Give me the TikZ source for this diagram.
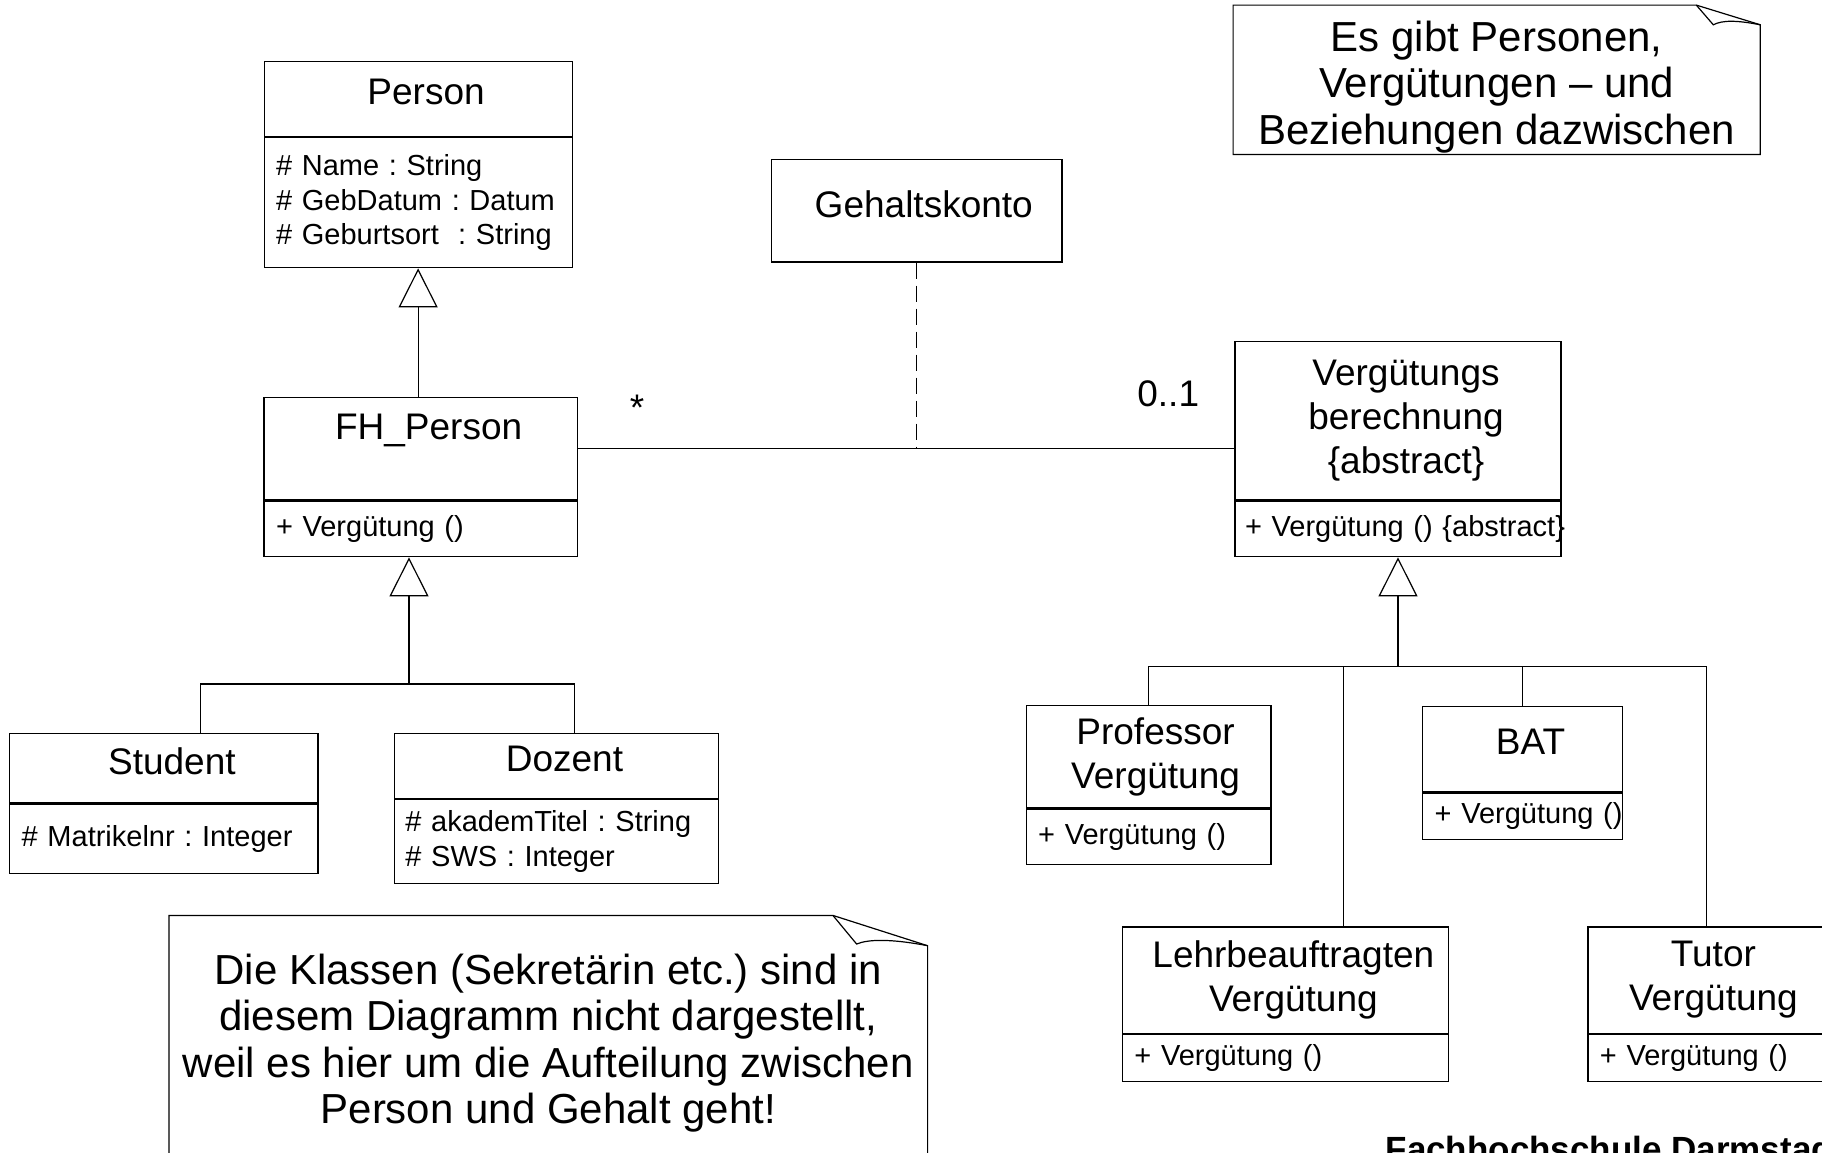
\documentclass[tikz,border=0pt]{standalone}
\usepackage{fontspec}
\setmainfont{Liberation Sans}
\usepackage{tikz}
\usetikzlibrary{positioning}
\usetikzlibrary{calc}
\usetikzlibrary{arrows.meta}

\newcommand\umlname{\fontsize{37}{44}\selectfont}
\newcommand\umlattr{\fontsize{29}{34.6}\selectfont}
\newcommand\umlnote{\fontsize{42}{46.5}\selectfont}
\frenchspacing

\begin{document}
\begin{tikzpicture}[
    x=1pt, y=-1pt,          % one unit per pixel, y runs downwards
    node distance=0pt,      % compartments sit flush on each other
    line width=1.2pt,
    ]
% -------------------------------------------------
\tikzset{
  cls/.style={draw, anchor=north, align=center, inner sep=0pt, font=\umlname},
  single/.style={text depth=14pt},
  attr/.style={draw, align=left, inner xsep=12pt, inner ysep=0pt, font=\umlattr},
  note/.style={align=center, inner sep=0pt, font=\umlnote},
  mult/.style={anchor=base, inner sep=0pt, font=\umlname},
  gen/.style={draw, -{Triangle[open, length=39pt, width=39pt]}},
  assoc/.style={draw},
  link/.style={draw, dash pattern=on 16pt off 7pt}
}
\useasboundingbox[fill=white] (0,0) rectangle (1822,1152);

% persons
\node [cls, single, minimum width=308pt, minimum height=75.5pt] (person) at (418.1,60.5) {\hspace*{16pt}Person};
\node [attr, text width=284pt, minimum height=130pt, below=of person] (personattr)
  {\# Name : String\\ \# GebDatum : Datum\\ \# Geburtsort~ : String};
\node [cls, minimum width=313.3pt, minimum height=102.4pt] (fhperson) at (420.65,397) {\hspace*{16pt}FH\_Person\\\mbox{}};
\node [attr, text width=289.3pt, minimum height=55.6pt, below=of fhperson] (fhattr) {+ Vergütung ()};
\node [cls, single, minimum width=308.3pt, minimum height=69.7pt] (student) at (163.85,732.7) {\hspace*{16pt}Student};
\node [attr, text width=284.3pt, minimum height=69.6pt, below=of student] (studentattr) {\# Matrikelnr : Integer};
\node [cls, single, minimum width=324.2pt, minimum height=65.1pt] (dozent) at (556.5,732.7) {\hspace*{16pt}Dozent};
\node [attr, text width=302.2pt, inner xsep=11pt, minimum height=83.8pt, below=of dozent] (dozentattr)
  {\# akademTitel : String\\ \# SWS : Integer};

% association class
\node [cls, single, minimum width=290.5pt, minimum height=102.6pt] (konto) at (916.75,158.8) {\hspace*{14pt}Gehaltskonto};

% payments
\node [cls, minimum width=326pt, minimum height=158.8pt] (verg) at (1398,340.6)
  {\hspace*{16pt}Vergütungs\\\hspace*{16pt}berechnung\\\hspace*{16pt}\{abstract\}};
\node [attr, text width=306pt, inner xsep=10pt, minimum height=55.6pt, below=of verg] (vergattr) {\mbox{+ Vergütung () \{abstract\}}};
\node [cls, minimum width=244.7pt, minimum height=102.7pt] (profv) at (1148.55,704.6)
  {\hspace*{14pt}Professor\\\hspace*{14pt}Vergütung};
\node [attr, text width=220.7pt, minimum height=55.3pt, below=of profv] (profattr) {+ Vergütung ()};
\node [cls, single, minimum width=199.7pt, minimum height=85.2pt] (bat) at (1522.55,706) {\hspace*{16pt}BAT};
\node [attr, text width=175.7pt, minimum height=46.1pt, below=of bat] (batattr) {\mbox{+ Vergütung ()}};
\node [cls, minimum width=325.9pt, minimum height=106.3pt] (lehrv) at (1285.35,926.3)
  {\hspace*{16pt}Lehrbeauftragten\\\hspace*{16pt}Vergütung};
\node [attr, text width=301.9pt, minimum height=46.9pt, below=of lehrv] (lehrattr) {+ Vergütung ()};
\node [cls, minimum width=237pt, minimum height=106.3pt] (tutorv) at (1706.4,926.3)
  {\hspace*{14pt}Tutor\\\hspace*{14pt}Vergütung};
\node [attr, text width=213pt, minimum height=46.9pt, below=of tutorv] (tutorattr) {+ Vergütung ()};

% multiplicities
\node [mult] (mstar) at (637,420) {*};
\node [mult] (mone) at (1168.2,406.8) {0..1};

% notes
\node [note, minimum width=526pt, minimum height=148.1pt] (notetop) at (1496.7,79.75)
  {\rule{0pt}{45pt}Es gibt Personen,\\Vergütungen – und\\Beziehungen dazwischen};
\path (notetop.north east) ++(-64,0) coordinate (topfold);
\draw (notetop.north west) -- (topfold) -- ([yshift=-19.7pt]notetop.north east)
  -- (notetop.south east) -- (notetop.south west) -- cycle;
\draw (topfold) -- ([xshift=-47pt, yshift=-19.7pt]notetop.north east)
  .. controls ([xshift=-38pt, yshift=-15pt]notetop.north east) and ([xshift=-24pt, yshift=-15pt]notetop.north east)
  .. ([yshift=-19.7pt]notetop.north east);

\node [note, minimum width=757.4pt, minimum height=254pt] (notebot) at (548.3,1043)
  {Die Klassen (Sekretärin etc.) sind in\\diesem Diagramm nicht dargestellt,\\weil es hier um die Aufteilung zwischen\\Person und Gehalt geht!};
\path (notebot.north east) ++(-94.7,0) coordinate (botfold);
\draw (notebot.north west) -- (botfold) -- ([yshift=-30.3pt]notebot.north east)
  -- (notebot.south east) -- (notebot.south west) -- cycle;
\draw (botfold) -- ([xshift=-71pt, yshift=-28.6pt]notebot.north east)
  .. controls ([xshift=-60pt, yshift=-24pt]notebot.north east) and ([xshift=-38pt, yshift=-23pt]notebot.north east)
  .. ([yshift=-30.3pt]notebot.north east);

\node [anchor=base west, inner sep=0pt, font=\fontsize{35}{41}\selectfont\bfseries] (fhda) at (1385,1161)
  {Fachhochschule Darmstadt};

% relations
\coordinate (fhjoint) at (409,684);
\coordinate (vbjoint) at (1398,666.2);
\path [gen] (personattr.south |- fhperson.north) -- (personattr.south);
\path [gen] (fhjoint) -- (fhjoint |- fhattr.south);
\path [assoc] ([xshift=36.6pt]student.north) |- (fhjoint) -| ([xshift=17.9pt]dozent.north);
\path [assoc] (fhperson.east) -- (fhperson.east -| verg.west);
\path [link] (konto.south) -- (konto.south |- fhperson.east);
\path [gen] (vbjoint) -- (vergattr.south);
\path [assoc] (profv.north) |- (vbjoint) -| (tutorv.north);
\path [assoc] (bat.north) -- (bat.north |- vbjoint);
\path [assoc] ([xshift=58.3pt]lehrv.north) -- ([xshift=58.3pt]lehrv.north |- vbjoint);
\end{tikzpicture}
\end{document}
